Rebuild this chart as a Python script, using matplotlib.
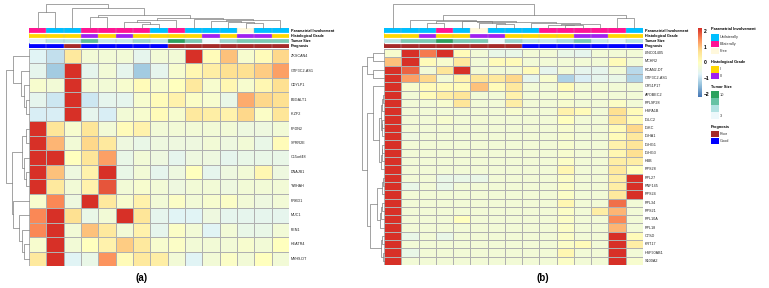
import numpy as np
import matplotlib

matplotlib.use("Agg")
import matplotlib.pyplot as plt
from matplotlib.colors import LinearSegmentedColormap, to_rgb

plt.rcParams["font.family"] = ["Liberation Sans", "DejaVu Sans"]

# ---------------- data: panel (a) ----------------
a_genes = ["ZKSCAN4", "GTF3C2-AS1", "CDYLP1", "B3GALT1", "IKZF2", "PFDN2", "SPRR2E",
           "C15orf48", "DNAJB1", "YWHAH", "PRKD1", "MUC1", "FEN1", "HEATR4", "MYH9-DT"]
a_values = [
    [-0.7, -1.0, 0.5, -0.3, -0.3, -0.3, -0.6, -0.3, -0.3, 3.0, 0.1, 1.0, -0.2, 0.1, 0.8],
    [-0.6, -1.3, 3.0, -0.6, -0.3, -0.6, -1.3, -0.6, -0.2, 0.2, 0.4, 0.7, 0.7, 0.9, 1.3],
    [-0.2, -0.3, 3.0, -0.3, -0.3, -0.2, 0.1, -0.2, 0.0, 0.5, -0.2, 0.2, -0.2, 0.2, 0.7],
    [-0.6, -0.9, 3.0, -0.9, -0.6, -0.6, -0.2, 0.1, 0.3, -0.1, -0.2, -0.5, 1.2, 0.8, 0.7],
    [-0.8, -0.8, 3.0, -0.6, -0.8, -0.3, -0.2, 0.1, -0.2, 0.5, 0.4, 0.3, 0.8, -0.1, 0.6],
    [3.0, 0.6, -0.2, 0.6, -0.3, 0.1, 0.3, -0.3, -0.3, -0.3, -0.3, -0.3, -0.4, -0.4, -0.3],
    [3.0, 1.1, -0.3, 0.8, 0.5, -0.4, -0.5, -0.4, -0.4, -0.4, -0.3, -0.4, -0.3, -0.5, 0.1],
    [3.0, 3.0, 0.0, 0.6, 1.3, -0.5, -0.3, -0.4, -0.6, -0.4, -0.4, -0.6, -0.5, -0.5, -0.5],
    [3.0, 1.0, -0.4, 0.3, 3.0, -0.5, -0.3, -0.6, -0.4, 0.0, -0.6, -0.4, -0.3, 0.2, -0.4],
    [3.0, 0.5, -0.3, 0.3, 1.9, -0.3, -0.2, -0.3, -0.4, -0.3, -0.3, -0.4, -0.3, -0.3, -0.3],
    [-0.2, 1.5, -0.4, 3.0, 0.5, -0.2, 0.3, -0.3, -0.1, -0.3, -0.2, -0.1, -0.3, -0.4, -0.3],
    [1.5, 3.0, 0.7, -0.5, -0.3, 3.0, 0.6, -0.6, -0.7, -0.7, -0.4, -0.6, -0.6, -0.6, -0.6],
    [1.5, 3.0, -0.3, 1.0, 0.5, -0.3, 0.3, -0.6, -0.1, -0.3, -0.7, -0.3, -0.5, -0.5, -0.3],
    [-0.2, 3.0, -0.3, 0.0, 0.3, 0.9, 0.5, -0.2, -0.1, -0.3, -0.3, -0.3, -0.2, -0.3, 0.0],
    [0.5, 3.0, -0.7, -0.5, 1.4, 0.1, 0.5, 0.4, -0.3, -0.7, -0.3, -0.1, -0.3, 0.0, -0.3],
]
a_param = ["Bilaterally", "Unilaterally", "Unilaterally", "Bilaterally", "Bilaterally",
           "Bilaterally", "Bilaterally", "Unilaterally", "Bilaterally", "Unilaterally",
           "Unilaterally", "Unilaterally", "Free", "Unilaterally", "Unilaterally"]
a_grade = ["II", "II", "II", "III", "II", "III", "II", "II", "II", "II", "III", "II", "III", "III", "II"]
a_size = [3.5, 5, 5, 8, 4.5, 4.5, 6, 5, 10, 7, 3, 6, 7, 7, 7]
a_prog = ["Good", "Good", "Poor", "Good", "Good", "Good", "Good", "Good",
          "Poor", "Poor", "Poor", "Poor", "Poor", "Poor", "Poor"]
# dendrograms as nested (left, right, height); ints are leaves in display order
a_col_tree = ((0, 1, 49),
              (2, ((3, 4, 32),
                   (((5, (6, 7, 11), 19), 8, 24),
                    (9, ((10, (11, (12, 13, 14), 18), 22), 14, 24), 27), 29), 39), 59), 72)
a_row_tree = ((0, (1, (2, (3, 4, 10), 16), 23), 50),
              (((5, 6, 10), (7, (8, 9, 8), 14), 20),
               (10, (11, (12, (13, 14, 15), 22), 30), 50), 53), 70)

# ---------------- data: panel (b) ----------------
b_genes = ["LINC01405", "MCHR2", "RCAN2-DT", "GTF3C2-AS1", "OR51P17", "APOBEC2", "RPL9P28",
           "HSPA1B", "IGLC2", "IGKC", "IGHA1", "IGHG1", "IGHG3", "HBB", "RPS28", "RPL27",
           "RNF145", "RPS24", "RPL34", "RPS21", "RPL10A", "RPL18", "CTSD", "KRT17",
           "HSP90AB1", "S100A2"]
b_values = [
    [-0.2, 3.0, 1.6, 3.0, 0.1, -0.3, -0.5, -0.5, -0.3, -0.3, -0.5, -0.6, -0.3, -0.3, -0.3],
    [1.0, 3.0, 0.1, -0.2, 0.5, -0.3, 0.1, 0.1, -0.3, -0.3, -0.3, -0.3, -0.3, 0.1, -0.3],
    [3.0, 1.8, -0.3, 0.6, 3.0, -0.3, -0.3, -0.3, 0.1, -0.6, -0.3, -0.6, -0.6, -0.3, -1.1],
    [3.0, 1.3, 0.8, -0.3, 0.3, 0.6, 0.5, 0.8, -0.6, -0.2, -1.2, -0.8, -0.6, -0.5, -1.2],
    [3.0, -0.2, 0.1, 0.1, 0.1, 1.0, 0.1, 0.5, -0.3, -0.3, 0.1, -0.3, -0.3, -0.3, -0.3],
    [3.0, -0.3, 0.1, 0.4, 0.6, -0.3, -0.3, 0.3, -0.3, -0.3, -0.2, -0.3, -0.3, -0.3, -0.3],
    [3.0, -0.3, -0.3, -0.2, 0.6, -0.3, -0.3, 0.4, -0.3, -0.3, -0.2, -0.3, -0.3, -0.1, -0.3],
    [3.0, -0.3, -0.3, -0.3, -0.3, -0.3, -0.3, -0.2, -0.3, -0.3, 0.3, 0.1, -0.3, 0.7, 0.1],
    [3.0, -0.3, -0.3, -0.2, -0.3, -0.3, -0.3, -0.3, -0.3, -0.3, 0.0, -0.3, -0.3, 0.6, 0.1],
    [3.0, -0.3, -0.3, -0.3, -0.3, -0.3, -0.3, -0.3, -0.3, -0.3, -0.2, -0.3, -0.3, 0.1, 0.8],
    [3.0, -0.4, -0.3, -0.3, -0.3, -0.3, -0.3, -0.3, -0.3, -0.3, -0.2, -0.3, -0.3, 0.1, 0.5],
    [3.0, -0.3, -0.3, -0.3, -0.3, -0.3, -0.3, -0.3, -0.3, -0.3, -0.2, -0.3, -0.3, 0.3, 0.6],
    [3.0, -0.3, -0.3, -0.3, -0.3, -0.3, -0.3, -0.3, -0.3, -0.3, -0.2, -0.3, -0.3, 0.2, 0.7],
    [3.0, -0.3, -0.3, -0.3, -0.3, -0.3, -0.3, -0.3, -0.3, -0.3, -0.1, -0.3, -0.3, 0.4, 0.4],
    [3.0, -0.3, -0.3, -0.3, -0.3, -0.3, -0.3, -0.3, -0.3, -0.3, 0.2, -0.3, -0.3, 0.5, 0.0],
    [3.0, -0.3, -0.3, -0.5, -0.5, -0.5, -0.3, -0.3, -0.3, -0.3, -0.1, -0.3, -0.3, 0.4, 3.0],
    [3.0, -0.5, -0.3, -0.5, -0.3, -0.3, -0.3, -0.3, -0.3, -0.3, -0.1, -0.3, -0.3, 0.4, 3.0],
    [3.0, -0.3, -0.3, -0.3, -0.3, -0.3, -0.3, -0.3, -0.3, -0.3, -0.1, -0.3, -0.3, 0.5, 3.0],
    [3.0, -0.3, -0.3, -0.3, -0.3, -0.3, -0.3, -0.3, -0.3, -0.3, 0.2, -0.3, -0.3, 1.7, -0.3],
    [3.0, -0.3, -0.3, -0.3, -0.3, -0.3, -0.3, -0.3, -0.3, -0.3, -0.1, -0.3, 0.4, 1.1, -0.3],
    [3.0, -0.3, -0.3, -0.3, 0.0, -0.3, -0.3, -0.3, -0.3, -0.3, -0.1, -0.3, -0.3, 1.5, -0.3],
    [3.0, -0.3, -0.3, -0.3, -0.3, -0.3, -0.3, -0.3, -0.3, -0.3, -0.1, -0.3, -0.3, 1.1, -0.3],
    [3.0, -0.5, -0.3, -0.5, -0.3, -0.3, -0.3, -0.3, -0.3, -0.3, -0.1, -0.3, -0.3, 3.0, 0.1],
    [3.0, -0.3, -0.3, -0.3, -0.3, -0.3, -0.3, -0.3, -0.3, -0.3, -0.1, 0.1, -0.3, 3.0, 0.4],
    [3.0, -0.5, -0.3, -0.3, -0.3, -0.3, -0.3, -0.3, -0.3, -0.3, 0.2, -0.3, -0.3, 3.0, -0.3],
    [3.0, -0.3, -0.3, -0.3, -0.3, -0.3, -0.3, -0.3, -0.3, -0.3, -0.1, -0.3, -0.3, 3.0, -0.2],
]
b_param = ["Unilaterally", "Unilaterally", "Unilaterally", "Bilaterally", "Unilaterally",
           "Free", "Unilaterally", "Unilaterally", "Unilaterally", "Bilaterally",
           "Bilaterally", "Bilaterally", "Bilaterally", "Bilaterally", "Unilaterally"]
b_grade = ["II", "II", "III", "II", "II", "III", "III", "II", "II", "II", "II", "III", "III", "II", "II"]
b_size = [5, 7, 7, 10, 7, 7, 3, 6, 5, 4.5, 5.5, 7, 4.5, 3.5, 5]
b_prog = ["Poor"] * 8 + ["Good"] * 7
b_col_tree = (0, ((1, ((2, 3, 14),
                       ((4, (5, (6, 7, 12), 16), 20),
                        (8, ((9, (10, 11, 8), 10), 12, 13), 16), 18), 22), 24),
                  (13, 14, 29), 39), 72)
b_row_tree = (((0, 1, 32), (2, 3, 32), 52),
              ((4, ((((5, 6, 4), 7, 7), ((8, 9, 5), 10, 6), 10),
                    (((11, 12, 5), 13, 7), 14, 9), 14), 34),
               ((((15, 16, 4), 17, 7), (((18, 19, 6), 20, 9), 21, 11), 20),
                ((22, 23, 5), (24, 25, 4), 8), 42), 52), 67)

anno_names = ["Parametrial Involvement", "Histological Grade", "Tumor Size", "Prognosis"]
param_colors = {"Unilaterally": "#00bfff", "Bilaterally": "#ff1493", "Free": "#fff8dc"}
grade_colors = {"II": "#ffd700", "III": "#a020f0"}
prog_colors = {"Poor": "#a52a2a", "Good": "#0000ff"}
size_ticks = [10, 3]

# ---------------- styling ----------------
W, H = 769, 288
heat_cmap = LinearSegmentedColormap.from_list(
    "ph", ["#4575b4", "#91bfdb", "#e0f3f8", "#ffffbf", "#fee090", "#fc8d59", "#d73027"])
size_cmap = LinearSegmentedColormap.from_list("ts", ["#edf8fb", "#b2e2e2", "#66c2a4", "#2ca25f"])
VMIN, VMAX = -2.2, 2.2
GRID = "#b0b0b0"
DCOL = "#7f7f7f"

fig = plt.figure(figsize=(W / 100, H / 100), dpi=100)


def px_axes(x0, y0, x1, y1):
    ax = fig.add_axes([x0 / W, 1 - y1 / H, (x1 - x0) / W, (y1 - y0) / H])
    ax.set_axis_off()
    return ax


def draw_node(ax, node, side):
    if isinstance(node, int):
        return node + 0.5, 0.0
    left, right, h = node
    xa, ha = draw_node(ax, left, side)
    xb, hb = draw_node(ax, right, side)
    xs, ys = [xa, xa, xb, xb], [ha, h, h, hb]
    if side == "top":
        ax.plot(xs, ys, color=DCOL, lw=0.5, clip_on=False)
    else:
        ax.plot(ys, xs, color=DCOL, lw=0.5, clip_on=False)
    return (xa + xb) / 2, h


def draw_dendro(ax, tree, n, side):
    _, top = draw_node(ax, tree, side)
    if side == "top":
        ax.set_xlim(0, n)
        ax.set_ylim(0, top)
    else:
        ax.set_ylim(n, 0)
        ax.set_xlim(top, 0)


def size_color(v):
    return size_cmap((v - 3) / 7)


def panel(x0, x1, ytop, ybot, row_x0, genes, values, param, grade, size, prog, col_tree, row_tree):
    n = len(param)
    # heatmap
    ax = px_axes(x0, ytop, x1, ybot)
    arr = np.array(values)
    ax.pcolormesh(arr, cmap=heat_cmap, vmin=VMIN, vmax=VMAX, edgecolors=GRID, linewidth=0.4)
    ax.set_xlim(0, n)
    ax.set_ylim(len(genes), 0)
    rh = (ybot - ytop) / len(genes)
    for i, g in enumerate(genes):
        fig.text((x1 + 2) / W, 1 - (ytop + rh * (i + 0.5)) / H, g, fontsize=2.7,
                 va="center", ha="left", color="#222222")
    # annotations
    rows = [[to_rgb(param_colors[p]) for p in param],
            [to_rgb(grade_colors[g]) for g in grade],
            [size_color(s)[:3] for s in size],
            [to_rgb(prog_colors[p]) for p in prog]]
    axa = px_axes(x0, 28, x1, 48)
    axa.imshow(np.array(rows), aspect="auto", extent=(0, n, 4, 0), interpolation="nearest")
    axa.vlines(np.arange(1, n), 0, 4, color=GRID, lw=0.3)
    axa.hlines([1, 2, 3], 0, n, color="white", lw=0.9)
    axa.set_xlim(0, n)
    axa.set_ylim(4, 0)
    for i, name in enumerate(anno_names):
        fig.text((x1 + 2) / W, 1 - (28 + 5 * (i + 0.5)) / H, name, fontsize=2.7,
                 fontweight="bold", va="center", ha="left")
    # dendrograms
    axc = px_axes(x0, 4, x1, 28)
    draw_dendro(axc, col_tree, n, "top")
    axr = px_axes(row_x0, ytop, x0, ybot)
    draw_dendro(axr, row_tree, len(genes), "left")


panel(29, 289, 49, 266, 6, a_genes, a_values, a_param, a_grade, a_size, a_prog, a_col_tree, a_row_tree)
panel(384, 643, 49, 265, 362, b_genes, b_values, b_param, b_grade, b_size, b_prog, b_col_tree, b_row_tree)

# colour bar
cax = fig.add_axes([697.5 / W, 1 - 97 / H, 4.3 / W, 69 / H])
cb = fig.colorbar(plt.cm.ScalarMappable(cmap=heat_cmap, norm=plt.Normalize(VMIN, VMAX)), cax=cax)
cb.outline.set_visible(False)
cb.set_ticks([2, 1, 0, -1, -2])
cb.ax.tick_params(length=0, labelsize=3.6, pad=1.5)
cb.ax.set_yticklabels(["2", "1", "0", "\u22121", "\u22122"], fontweight="bold")

# legend
lx, tx = 711, 720


def legend_title(y, s):
    fig.text(lx / W, 1 - y / H, s, fontsize=2.8, fontweight="bold", va="center", ha="left")


def legend_box(y0, y1, c, label):
    axl = px_axes(lx, y0, lx + 7.5, y1)
    axl.add_patch(plt.Rectangle((0, 0), 1, 1, color=c))
    if label:
        fig.text(tx / W, 1 - (y0 + y1) / 2 / H, label, fontsize=2.8, va="center", ha="left",
                 color="#333333")


legend_title(29.5, anno_names[0])
for i, (k, c) in enumerate(param_colors.items()):
    legend_box(34.3 + 6.8 * i, 40.5 + 6.8 * i, c, k)
legend_title(62.5, anno_names[1])
for i, (k, c) in enumerate(grade_colors.items()):
    legend_box(66.3 + 6.8 * i, 72.5 + 6.8 * i, c, k)
legend_title(87.5, anno_names[2])
size_levels = np.linspace(size_ticks[0], size_ticks[1], 4)
for i, v in enumerate(size_levels):
    legend_box(91 + 6.9 * i, 98 + 6.9 * i, size_color(v), None)
fig.text(tx / W, 1 - 94.5 / H, str(size_ticks[0]), fontsize=2.8, va="center", color="#333333")
fig.text(tx / W, 1 - 116 / H, str(size_ticks[1]), fontsize=2.8, va="center", color="#333333")
legend_title(127.5, anno_names[3])
for i, (k, c) in enumerate(prog_colors.items()):
    legend_box(131 + 6.8 * i, 137.2 + 6.8 * i, c, k)

fig.text(142 / W, 1 - 278 / H, "(a)", fontsize=7, fontweight="bold", ha="center", va="center")
fig.text(543 / W, 1 - 278 / H, "(b)", fontsize=7, fontweight="bold", ha="center", va="center")

fig.savefig("out.png", dpi=100)
